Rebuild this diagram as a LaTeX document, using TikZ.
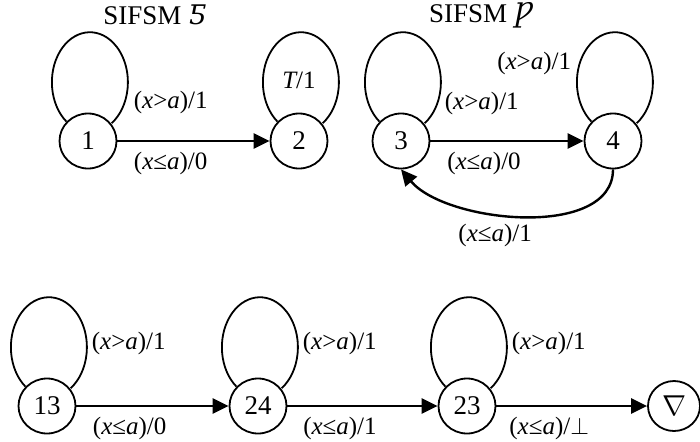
\documentclass[tikz,border=0pt]{standalone}
\usepackage{fontspec}
\setmainfont{Liberation Serif}
\newfontfamily\symfont{DejaVu Serif}
\usetikzlibrary{arrows.meta,shapes.geometric,positioning}
\tikzset{
  state/.style={ellipse, draw, minimum width=28.5pt, minimum height=27.5pt, inner sep=0pt,
    font=\fontsize{13.5}{16}\selectfont},
  final/.style={state, minimum width=26pt, minimum height=25pt},
  trans/.style={line width=1.2pt, -{Triangle[length=8pt,width=7.5pt]}},
  selfloop/.style={to path={(\tikztostart.138) arc[start angle=232, end angle=-55, x radius=38, y radius=50]}},
  lbl/.style={inner sep=1pt}
}
\newcommand{\xgt}[1]{({\itshape x}>{\itshape a})/#1}
\newcommand{\xle}[1]{({\itshape x}≤{\itshape a})/#1}

\begin{document}
\begin{tikzpicture}[x=0.5pt, y=0.5pt, line width=0.9pt, font=\fontsize{12.5}{15}\selectfont]
  \useasboundingbox (0,0) rectangle (700,441);
  % titles
  \node[font=\fontsize{13.5}{16}\selectfont] (tS) at (155,426) {SIFSM {\symfont\itshape Ƽ}};
  \node[font=\fontsize{13.5}{16}\selectfont] (tP) at (481,426) {SIFSM {\symfont\itshape Ƿ}};
  % SIFSM on the left
  \node[state] (s1) at (88,300) {1};
  \node[state] (s2) at (299,300) {2};
  \draw (s1) to[selfloop] (s1);
  \draw (s2) to[selfloop] (s2);
  \node[lbl, anchor=west] (l1) at ([shift={(43,39)}]s1) {\xgt{1}};
  \node[lbl] (l2) at ([shift={(0,61)}]s2) {{\itshape T}/1};
  \draw[trans] (s1) -- node[lbl, pos=.35, below=4pt] {\xle{0}} (s2);
  % SIFSM on the right
  \node[state] (s3) at (401,300) {3};
  \node[state] (s4) at (613,300) {4};
  \draw (s3) to[selfloop] (s3);
  \draw (s4) to[selfloop] (s4);
  \node[lbl, anchor=west] (l3) at ([shift={(41,38)}]s3) {\xgt{1}};
  \node[lbl, anchor=east] (l4) at ([shift={(-39,78)}]s4) {\xgt{1}};
  \draw[trans] (s3) -- node[lbl, pos=.35, below=4pt] {\xle{0}} (s4);
  \draw[trans] (s4.south) to[out=-90, in=-50, looseness=.85]
    node[lbl, pos=.6, below=4pt] {\xle{1}} (s3.south);
  % product
  \node[state] (p13) at (47,35) {13};
  \node[state] (p24) at (258,35) {24};
  \node[state] (p23) at (467,35) {23};
  \node[final] (pend) at (674,35) {$\nabla$};
  \foreach \n in {p13,p24,p23}{
    \draw (\n) to[selfloop] (\n);
    \node[lbl, anchor=west] (l\n) at ([shift={(42,63)}]\n) {\xgt{1}};
  }
  \draw[trans] (p13) -- node[lbl, pos=.35, below=4pt] {\xle{0}} (p24);
  \draw[trans] (p24) -- node[lbl, pos=.35, below=4pt] {\xle{1}} (p23);
  \draw[trans] (p23) -- node[lbl, pos=.35, below=4pt] {\xle{$\perp$}} (pend);
\end{tikzpicture}
\end{document}
